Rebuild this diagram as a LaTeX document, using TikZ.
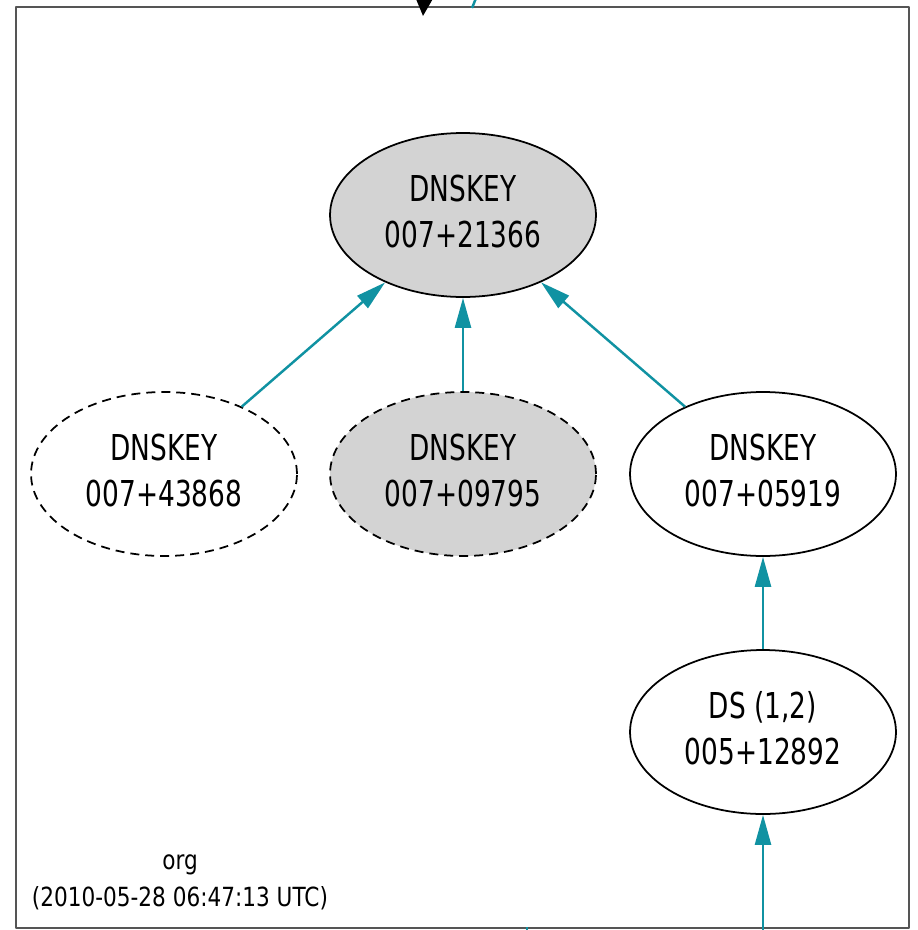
\documentclass[tikz,border=0pt]{standalone}
\usepackage{fontspec}
\setmainfont{DejaVu Sans}[FakeStretch=0.74]
\newfontfamily\zonefont{DejaVu Sans}[FakeStretch=0.82]
\usepackage{tikz}
\usetikzlibrary{positioning}
\usepackage{xcolor}
\usetikzlibrary{arrows.meta, shapes.geometric}
\definecolor{edgeteal}{RGB}{16,146,162}
\definecolor{keygray}{RGB}{211,211,211}
\definecolor{framegray}{RGB}{85,85,85}

\begin{document}
\begin{tikzpicture}[x=0.02cm, y=-0.02cm, line join=round,
  rrnode/.style={ellipse, draw=black, line width=1pt, fill=white,
    minimum width=5.32cm, minimum height=3.28cm, inner sep=0pt, text depth=0.16cm,
    align=center, font=\fontsize{20.3}{26.2}\selectfont},
  signed/.style={rrnode, fill=keygray},
  revoked/.style={dash pattern=on 0.18cm off 0.12cm},
  sigedge/.style={draw=edgeteal, line width=1.4pt,
    -{Triangle[length=0.6cm, width=0.32cm]}},
  zone label/.style={align=center, font=\zonefont\fontsize{15}{21}\selectfont}]
            \useasboundingbox (0,0) rectangle (917,930);

            % zone box
            \draw[framegray, line width=1.2pt] (16,7) rectangle (909,928);
            \node[zone label] (zonelbl) at (180,882) {org\\(2010-05-28 06:47:13 UTC)};

            % keys
            \node[signed] (ksk) at (463,215) {DNSKEY\\007+21366};
            \node[rrnode, revoked] (key43868) at (164,474) {DNSKEY\\007+43868};
            \node[signed, revoked] (key09795) at (463,474) {DNSKEY\\007+09795};
            \node[rrnode] (key05919) at (763,474) {DNSKEY\\007+05919};
            \node[rrnode] (ds) at (763,732) {DS (1,2)\\005+12892};

            % signatures inside the zone
            \draw[sigedge] (key43868) -- (ksk);
            \draw[sigedge] (key09795) -- (ksk);
            \draw[sigedge] (key05919) -- (ksk);
            \draw[sigedge] (ds) -- (key05919);

            % edges from outside the box
            \begin{scope}
              \clip (0,0) rectangle (917,930);
              \coordinate (parent) at (428,-60);
              \coordinate (dropin) at (423,16);
              \draw[black, line width=1.4pt, -{Triangle[length=0.36cm, width=0.34cm]}] (parent) -- (dropin);
              \coordinate (upout) at (472,8);
              \coordinate (upend) at (481,-14);
              \draw[edgeteal, line width=1.4pt] (upout) -- (upend);
              \coordinate (downout) at (527,927);
              \coordinate (downend) at (527,945);
              \draw[edgeteal, line width=1.4pt] (downout) -- (downend);
              \coordinate (dsin) at (763,950);
              \draw[sigedge] (dsin) -- (ds);
            \end{scope}
        \end{tikzpicture}
\end{document}
